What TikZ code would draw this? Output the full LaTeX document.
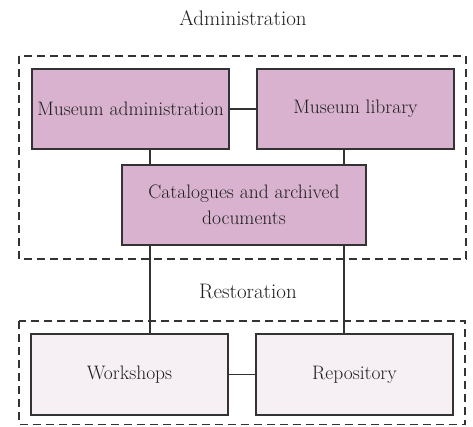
\documentclass[tikz,border=0pt]{standalone}
\usepackage{xcolor}
\definecolor{mauve}{HTML}{D8B2CE}
\definecolor{palepink}{HTML}{F6EFF4}
\definecolor{ink}{HTML}{333333}
\definecolor{txt}{HTML}{1E1E1E}
\begin{document}
\begin{tikzpicture}[x=1pt,y=-1pt,
  box/.style={draw=ink,line width=1.8pt,minimum width=197pt,minimum height=80pt,inner sep=2pt,align=center,text=txt,font=\fontsize{19.5}{26}\selectfont},
  topbox/.style={box,fill=mauve},
  botbox/.style={box,fill=palepink},
  group/.style={draw=ink,line width=1.4pt,dash pattern=on 8pt off 5pt},
  link/.style={draw=ink,line width=1.4pt},
  lbl/.style={font=\fontsize{21}{24}\selectfont,text=txt}]
\useasboundingbox (0,0) rectangle (473,426);
\draw[group] (19,56) rectangle (466,259);
\draw[group] (19,321) rectangle (465,424.5);
\node[lbl] (admin) at (243,18) {Administration};
\node[lbl] (rest) at (248,291) {Restoration};
\coordinate (c1) at (150,0);
\coordinate (c2) at (344,0);
\node[topbox] (ma) at (130.5,109) {Museum administration};
\node[topbox] (ml) at (355.5,109) {Museum library};
\node[topbox,minimum width=244pt] (cat) at (244,205) {Catalogues and archived\\documents};
\node[botbox,minimum height=81pt] (ws) at (129.5,374.5) {Workshops};
\node[botbox,minimum height=81pt] (rep) at (354.5,374.5) {Repository};
\draw[link] (ma.east) -- (ml.west);
\draw[link] (ws.east) -- (rep.west);
\draw[link] (ma.south -| c1) -- (cat.north -| c1);
\draw[link] (ml.south -| c2) -- (cat.north -| c2);
\draw[link] (cat.south -| c1) -- (ws.north -| c1);
\draw[link] (cat.south -| c2) -- (rep.north -| c2);
\end{tikzpicture}
\end{document}
